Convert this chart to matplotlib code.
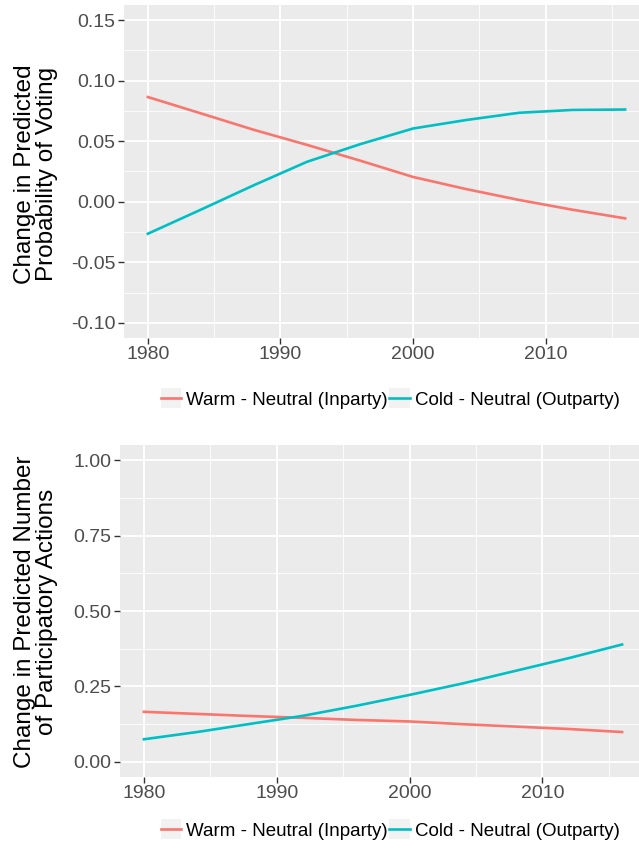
import matplotlib
matplotlib.use("Agg")
import matplotlib.pyplot as plt
from matplotlib.legend_handler import HandlerLine2D
from matplotlib.lines import Line2D
from matplotlib.patches import Rectangle
from matplotlib.ticker import MultipleLocator

plt.rcParams["font.family"] = ["Liberation Sans", "DejaVu Sans"]

# ---------------------------------------------------------------------------
# Data
# ---------------------------------------------------------------------------
years = [1980, 1984, 1988, 1992, 1996, 2000, 2004, 2008, 2012, 2016]

vote_warm = [0.0865, 0.073, 0.0594, 0.047, 0.034, 0.0205, 0.0105, 0.0015, -0.0065, -0.0137]
vote_cold = [-0.0264, -0.0065, 0.0137, 0.033, 0.0475, 0.0605, 0.0675, 0.0735, 0.0758, 0.0762]

part_warm = [0.166, 0.159, 0.152, 0.146, 0.139, 0.134, 0.125, 0.117, 0.109, 0.099]
part_cold = [0.075, 0.099, 0.126, 0.153, 0.186, 0.222, 0.260, 0.302, 0.344, 0.389]

labels = ["Warm - Neutral (Inparty)", "Cold - Neutral (Outparty)"]
vote_yticks = [-0.10, -0.05, 0.00, 0.05, 0.10, 0.15]
part_yticks = [0.00, 0.25, 0.50, 0.75, 1.00]
xticks = [1980, 1990, 2000, 2010]

COLORS = ["#F8766D", "#00BFC4"]
PANEL_BG = "#EBEBEB"


class KeyHandler(HandlerLine2D):
    """Line key with the grey ggplot key background behind it."""

    def create_artists(self, legend, orig_handle, xdescent, ydescent,
                       width, height, fontsize, trans):
        bg = Rectangle((-xdescent, -ydescent - 0.25 * height), width, height * 1.5,
                       facecolor="#F2F2F2", edgecolor="none", transform=trans)
        arts = super().create_artists(legend, orig_handle, xdescent, ydescent,
                                      width, height, fontsize, trans)
        return [bg] + arts


def style_axes(ax, yticks, ylim, fmt):
    ax.set_facecolor(PANEL_BG)
    for s in ax.spines.values():
        s.set_visible(False)
    ax.set_xlim(1978.2, 2017.8)
    ax.set_ylim(*ylim)
    ax.set_xticks(xticks)
    ax.xaxis.set_minor_locator(MultipleLocator(5))
    ax.set_yticks(yticks)
    ax.set_yticklabels([fmt.format(v) for v in yticks])
    step = yticks[1] - yticks[0]
    ax.yaxis.set_minor_locator(MultipleLocator(step / 2))
    ax.grid(which="major", color="white", linewidth=1.3)
    ax.grid(which="minor", color="white", linewidth=0.6)
    ax.set_axisbelow(True)
    ax.tick_params(which="major", length=4, width=1, color="#333333",
                   labelcolor="#4D4D4D", labelsize=14, pad=2)
    ax.tick_params(which="minor", length=0)


fig = plt.figure(figsize=(6.39, 8.52), dpi=100)

# -- top panel: probability of voting --
ax1 = fig.add_axes([124 / 639, 1 - 338 / 852, 525 / 639, 333 / 852])
ax1.plot(years, vote_warm, color=COLORS[0], linewidth=1.9)
ax1.plot(years, vote_cold, color=COLORS[1], linewidth=1.9)
style_axes(ax1, vote_yticks, (-0.1125, 0.1625), "{:.2f}")
fig.text(36 / 639, 1 - 174 / 852, "Change in Predicted\nProbability of Voting",
         rotation=90, ha="center", va="center", fontsize=17.5, linespacing=0.95)

# -- bottom panel: participatory actions --
ax2 = fig.add_axes([120 / 639, 1 - 777 / 852, 526 / 639, 332 / 852])
ax2.plot(years, part_warm, color=COLORS[0], linewidth=1.9)
ax2.plot(years, part_cold, color=COLORS[1], linewidth=1.9)
style_axes(ax2, part_yticks, (-0.05, 1.05), "{:.2f}")
fig.text(36 / 639, 1 - 612 / 852, "Change in Predicted Number\nof Participatory Actions",
         rotation=90, ha="center", va="center", fontsize=17.5, linespacing=0.95)

handles = [Line2D([], [], color=c, linewidth=1.9) for c in COLORS]
for yc in (400, 831):
    fig.legend(handles, labels, loc="center", bbox_to_anchor=(390 / 639, 1 - yc / 852),
               ncol=2, frameon=False, fontsize=13.5, handlelength=1.1,
               handletextpad=0.25, columnspacing=0.1, borderpad=0,
               handler_map={Line2D: KeyHandler()})

fig.savefig("out.png", dpi=100)
